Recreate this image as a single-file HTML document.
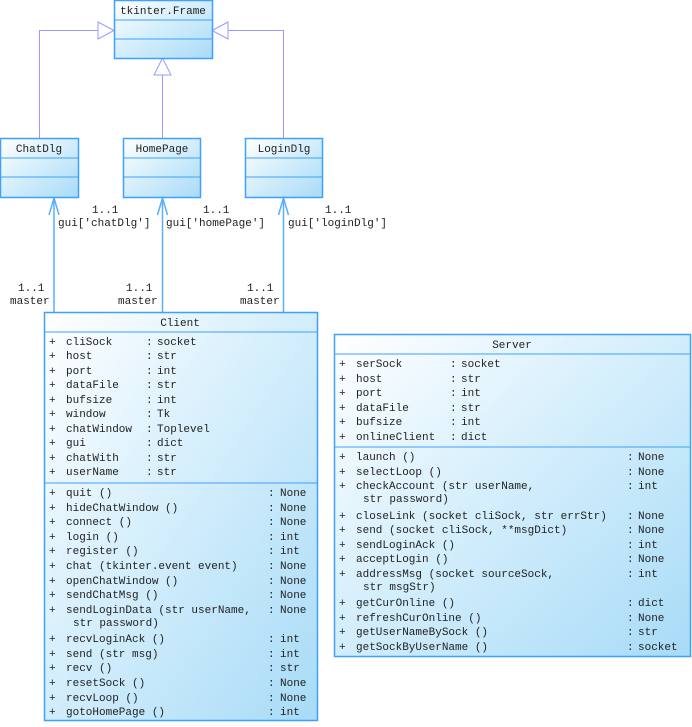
<!DOCTYPE html>
<html><head><meta charset="utf-8"><style>
body{margin:0;background:#fff}
svg text{font-family:"Liberation Mono",monospace;font-size:11px;fill:#222}
</style></head><body>
<svg width="692" height="722" xmlns="http://www.w3.org/2000/svg">
<defs>
<linearGradient id="g" x1="0" y1="0" x2="1" y2="1">
<stop offset="0" stop-color="#ffffff"/><stop offset="0.45" stop-color="#d6effc"/><stop offset="1" stop-color="#a8dbf7"/>
</linearGradient>
</defs>
<g fill="none" stroke="#9a9aff" stroke-width="1">
<polyline points="39.5,138 39.5,30.5 98,30.5"/>
<polygon points="114,30.5 98,22 98,39" fill="#fff"/>
<polyline points="283.5,138 283.5,30.5 228,30.5"/>
<polygon points="212,30.5 228,22 228,39" fill="#fff"/>
<line x1="162.5" y1="138" x2="162.5" y2="75"/>
<polygon points="162.5,58 154,75 171,75" fill="#fff"/>
</g>
<g fill="none" stroke="#5aaeff" stroke-width="1.5">
<line x1="54" y1="312" x2="54" y2="198"/><polyline points="49,215 54,198 59,215"/>
<line x1="162.5" y1="312" x2="162.5" y2="198"/><polyline points="157.5,215 162.5,198 167.5,215"/>
<line x1="283.5" y1="312" x2="283.5" y2="198"/><polyline points="278.5,215 283.5,198 288.5,215"/>
</g>
<g stroke="#3fa0ff" stroke-width="1.5" fill="url(#g)">
<rect x="114.5" y="0.5" width="98" height="58"/>
<rect x="0.5" y="138.5" width="78" height="59"/>
<rect x="123.5" y="138.5" width="77" height="59"/>
<rect x="245.5" y="138.5" width="77" height="59"/>
<rect x="44.5" y="312.5" width="273" height="408"/>
<rect x="334.5" y="334.5" width="356" height="322"/>
</g>
<g stroke="#3fa0ff" stroke-width="1">
<line x1="114" y1="20" x2="212" y2="20"/><line x1="114" y1="39" x2="212" y2="39"/>
<line x1="0" y1="158" x2="78" y2="158"/><line x1="0" y1="177" x2="78" y2="177"/>
<line x1="123" y1="158" x2="200" y2="158"/><line x1="123" y1="177" x2="200" y2="177"/>
<line x1="245" y1="158" x2="322" y2="158"/><line x1="245" y1="177" x2="322" y2="177"/>
<line x1="44" y1="332" x2="317" y2="332"/><line x1="44" y1="483" x2="317" y2="483"/>
<line x1="334" y1="354" x2="691" y2="354"/><line x1="334" y1="447" x2="691" y2="447"/>
</g>
<g text-anchor="middle">
<text x="163" y="14">tkinter.Frame</text>
<text x="39" y="152">ChatDlg</text>
<text x="162" y="152">HomePage</text>
<text x="284" y="152">LoginDlg</text>
<text x="180" y="326">Client</text>
<text x="512" y="348">Server</text>
</g>
<text x="92" y="213">1..1</text><text x="58" y="226">gui['chatDlg']</text>
<text x="18" y="291">1..1</text><text x="10" y="304">master</text>
<text x="203" y="213">1..1</text><text x="166" y="226">gui['homePage']</text>
<text x="126" y="291">1..1</text><text x="118" y="304">master</text>
<text x="325" y="213">1..1</text><text x="288" y="226">gui['loginDlg']</text>
<text x="247" y="291">1..1</text><text x="240" y="304">master</text>

<g>
<text x="49" y="345">+</text><text x="66" y="345">cliSock</text><text x="146" y="345">:</text><text x="157" y="345">socket</text>
<text x="49" y="359">+</text><text x="66" y="359">host</text><text x="146" y="359">:</text><text x="157" y="359">str</text>
<text x="49" y="374">+</text><text x="66" y="374">port</text><text x="146" y="374">:</text><text x="157" y="374">int</text>
<text x="49" y="388">+</text><text x="66" y="388">dataFile</text><text x="146" y="388">:</text><text x="157" y="388">str</text>
<text x="49" y="403">+</text><text x="66" y="403">bufsize</text><text x="146" y="403">:</text><text x="157" y="403">int</text>
<text x="49" y="417">+</text><text x="66" y="417">window</text><text x="146" y="417">:</text><text x="157" y="417">Tk</text>
<text x="49" y="432">+</text><text x="66" y="432">chatWindow</text><text x="146" y="432">:</text><text x="157" y="432">Toplevel</text>
<text x="49" y="446">+</text><text x="66" y="446">gui</text><text x="146" y="446">:</text><text x="157" y="446">dict</text>
<text x="49" y="461">+</text><text x="66" y="461">chatWith</text><text x="146" y="461">:</text><text x="157" y="461">str</text>
<text x="49" y="475">+</text><text x="66" y="475">userName</text><text x="146" y="475">:</text><text x="157" y="475">str</text>
</g>
<g>
<text x="49" y="496">+</text><text x="66" y="496">quit ()</text><text x="268" y="496">:</text><text x="280" y="496">None</text>
<text x="49" y="511">+</text><text x="66" y="511">hideChatWindow ()</text><text x="268" y="511">:</text><text x="280" y="511">None</text>
<text x="49" y="525">+</text><text x="66" y="525">connect ()</text><text x="268" y="525">:</text><text x="280" y="525">None</text>
<text x="49" y="540">+</text><text x="66" y="540">login ()</text><text x="268" y="540">:</text><text x="280" y="540">int</text>
<text x="49" y="554">+</text><text x="66" y="554">register ()</text><text x="268" y="554">:</text><text x="280" y="554">int</text>
<text x="49" y="569">+</text><text x="66" y="569">chat (tkinter.event event)</text><text x="268" y="569">:</text><text x="280" y="569">None</text>
<text x="49" y="584">+</text><text x="66" y="584">openChatWindow ()</text><text x="268" y="584">:</text><text x="280" y="584">None</text>
<text x="49" y="598">+</text><text x="66" y="598">sendChatMsg ()</text><text x="268" y="598">:</text><text x="280" y="598">None</text>
<text x="49" y="613">+</text><text x="66" y="613">sendLoginData (str userName,</text><text x="268" y="613">:</text><text x="280" y="613">None</text>
<text x="73" y="626">str password)</text>
<text x="49" y="642">+</text><text x="66" y="642">recvLoginAck ()</text><text x="268" y="642">:</text><text x="280" y="642">int</text>
<text x="49" y="657">+</text><text x="66" y="657">send (str msg)</text><text x="268" y="657">:</text><text x="280" y="657">int</text>
<text x="49" y="671">+</text><text x="66" y="671">recv ()</text><text x="268" y="671">:</text><text x="280" y="671">str</text>
<text x="49" y="686">+</text><text x="66" y="686">resetSock ()</text><text x="268" y="686">:</text><text x="280" y="686">None</text>
<text x="49" y="701">+</text><text x="66" y="701">recvLoop ()</text><text x="268" y="701">:</text><text x="280" y="701">None</text>
<text x="49" y="715">+</text><text x="66" y="715">gotoHomePage ()</text><text x="268" y="715">:</text><text x="280" y="715">int</text>
</g>
<g>
<text x="339" y="367">+</text><text x="356" y="367">serSock</text><text x="450" y="367">:</text><text x="461" y="367">socket</text>
<text x="339" y="382">+</text><text x="356" y="382">host</text><text x="450" y="382">:</text><text x="461" y="382">str</text>
<text x="339" y="396">+</text><text x="356" y="396">port</text><text x="450" y="396">:</text><text x="461" y="396">int</text>
<text x="339" y="411">+</text><text x="356" y="411">dataFile</text><text x="450" y="411">:</text><text x="461" y="411">str</text>
<text x="339" y="425">+</text><text x="356" y="425">bufsize</text><text x="450" y="425">:</text><text x="461" y="425">int</text>
<text x="339" y="440">+</text><text x="356" y="440">onlineClient</text><text x="450" y="440">:</text><text x="461" y="440">dict</text>
</g>
<g>
<text x="339" y="460">+</text><text x="356" y="460">launch ()</text><text x="627" y="460">:</text><text x="638" y="460">None</text>
<text x="339" y="475">+</text><text x="356" y="475">selectLoop ()</text><text x="627" y="475">:</text><text x="638" y="475">None</text>
<text x="339" y="489">+</text><text x="356" y="489">checkAccount (str userName,</text><text x="627" y="489">:</text><text x="638" y="489">int</text>
<text x="363" y="502">str password)</text>
<text x="339" y="519">+</text><text x="356" y="519">closeLink (socket cliSock, str errStr)</text><text x="627" y="519">:</text><text x="638" y="519">None</text>
<text x="339" y="533">+</text><text x="356" y="533">send (socket cliSock,  **msgDict)</text><text x="627" y="533">:</text><text x="638" y="533">None</text>
<text x="339" y="548">+</text><text x="356" y="548">sendLoginAck ()</text><text x="627" y="548">:</text><text x="638" y="548">int</text>
<text x="339" y="562">+</text><text x="356" y="562">acceptLogin ()</text><text x="627" y="562">:</text><text x="638" y="562">None</text>
<text x="339" y="577">+</text><text x="356" y="577">addressMsg (socket sourceSock,</text><text x="627" y="577">:</text><text x="638" y="577">int</text>
<text x="363" y="590">str msgStr)</text>
<text x="339" y="606">+</text><text x="356" y="606">getCurOnline ()</text><text x="627" y="606">:</text><text x="638" y="606">dict</text>
<text x="339" y="621">+</text><text x="356" y="621">refreshCurOnline ()</text><text x="627" y="621">:</text><text x="638" y="621">None</text>
<text x="339" y="635">+</text><text x="356" y="635">getUserNameBySock ()</text><text x="627" y="635">:</text><text x="638" y="635">str</text>
<text x="339" y="650">+</text><text x="356" y="650">getSockByUserName ()</text><text x="627" y="650">:</text><text x="638" y="650">socket</text>
</g>
</svg>
</body></html>
